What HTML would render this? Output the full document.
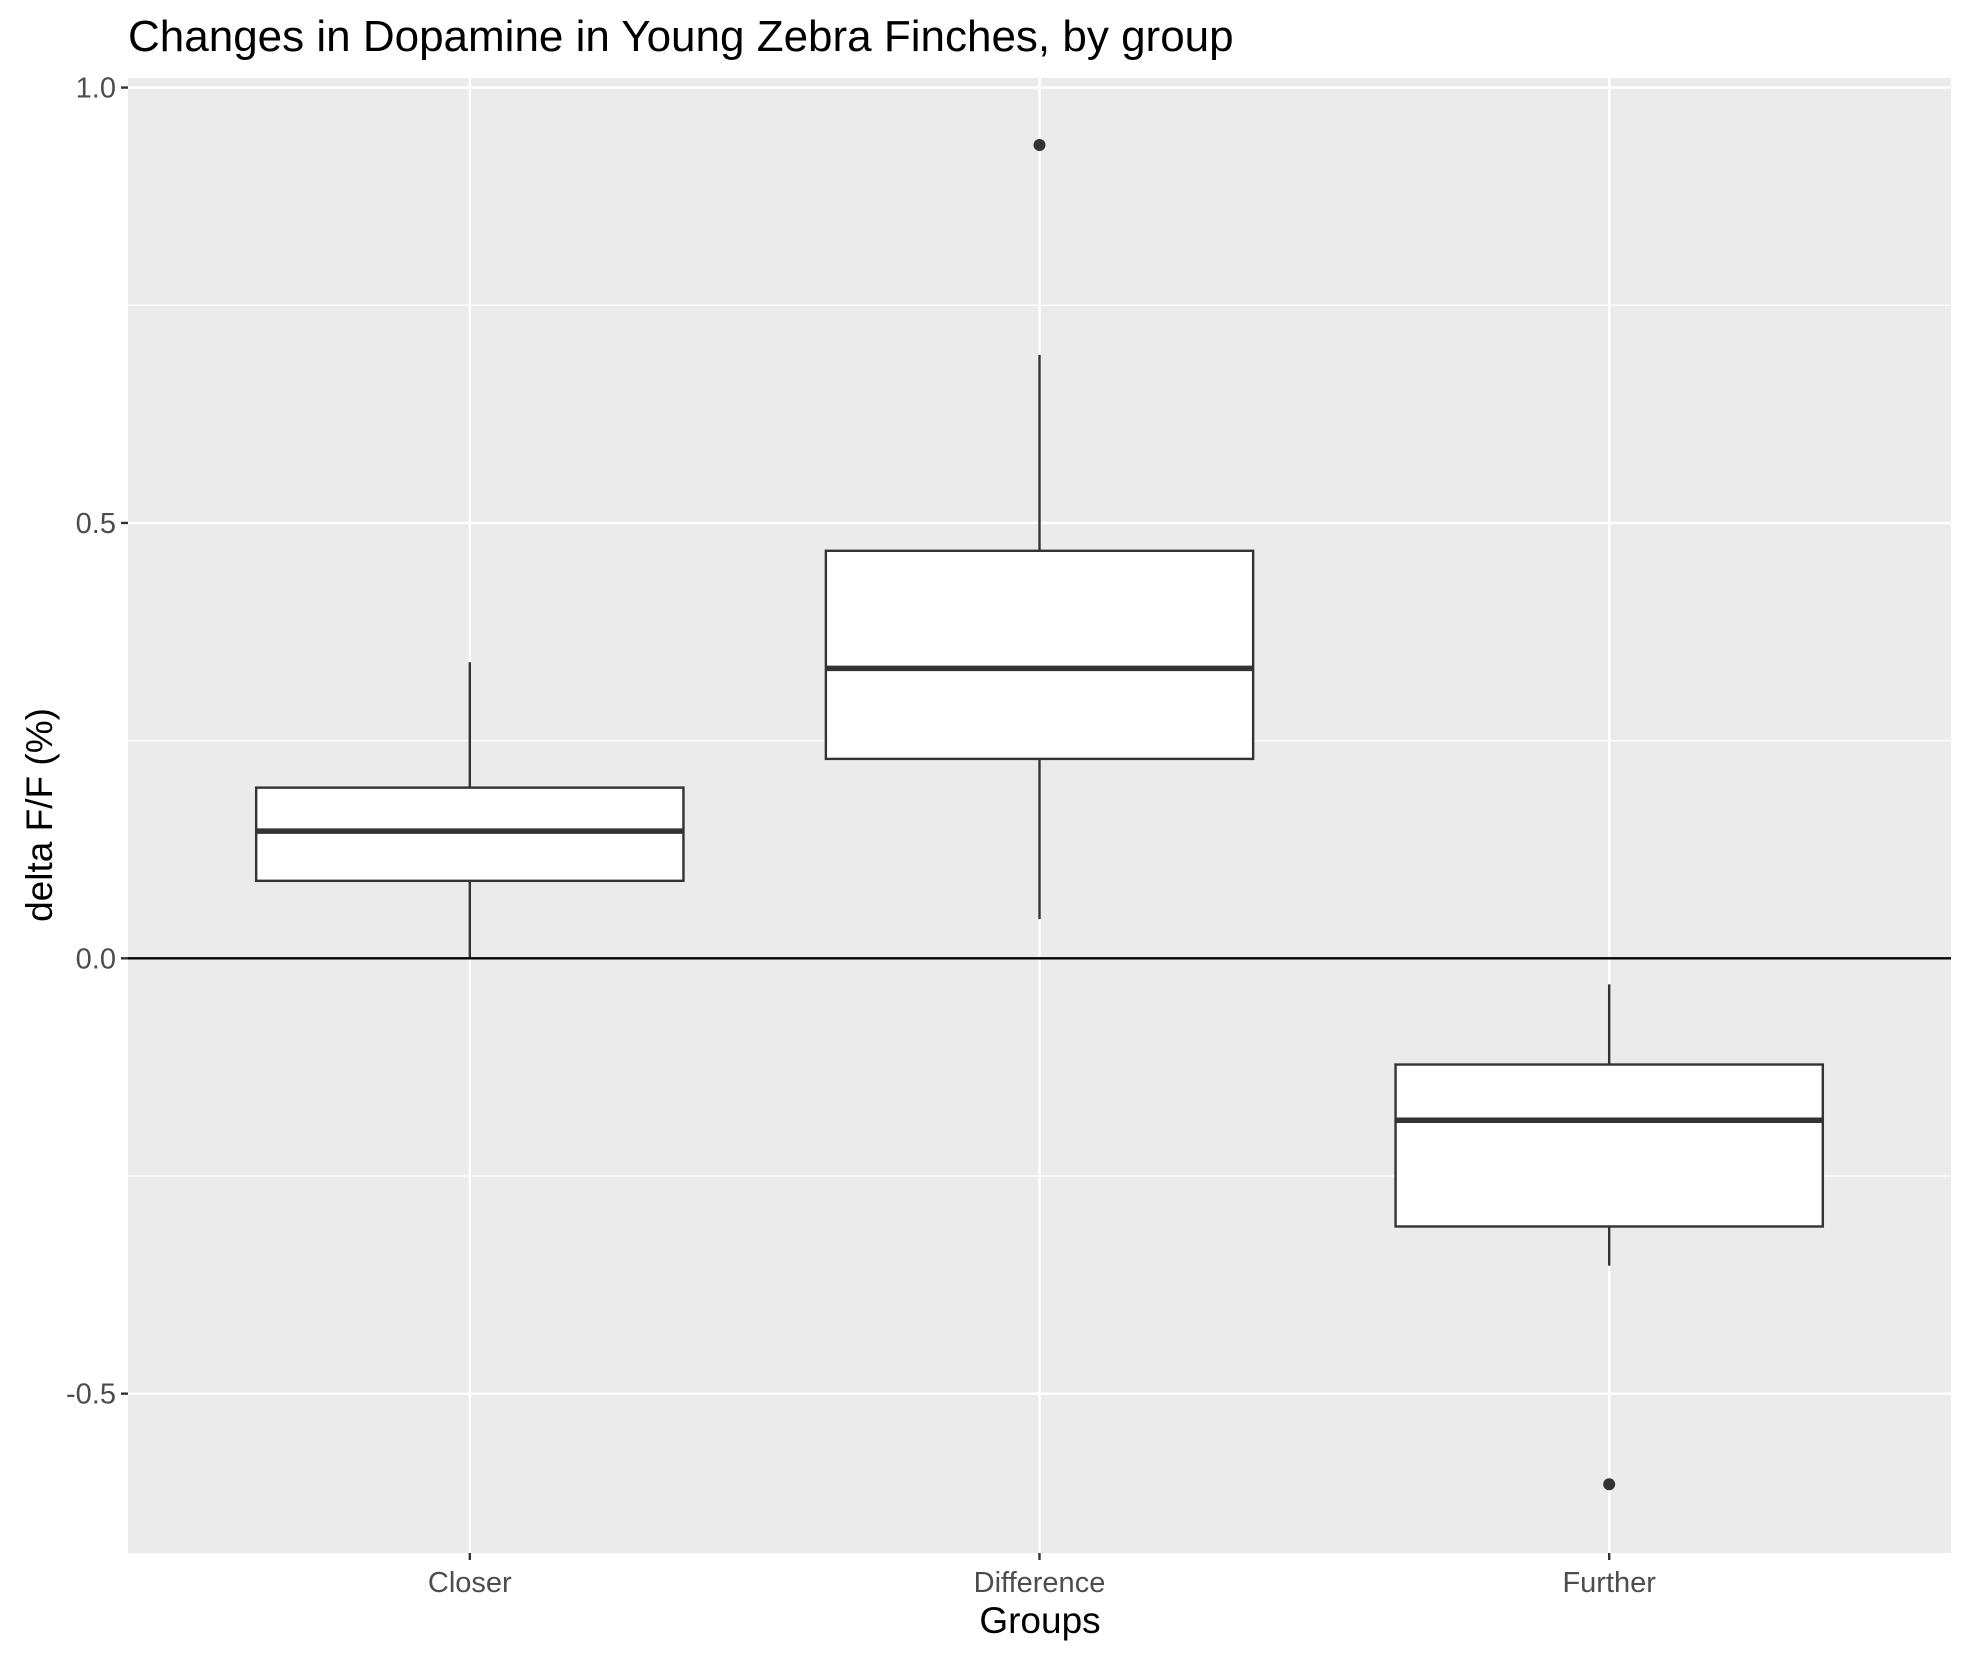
<!DOCTYPE html>
<html><head><meta charset="utf-8"><style>
html,body{margin:0;padding:0;background:#fff;}
svg{display:block;font-family:"Liberation Sans",Arial,sans-serif;}
</style></head><body>
<svg id="chart" width="1970" height="1660" viewBox="0 0 1970 1660" xmlns="http://www.w3.org/2000/svg">
<text x="128" y="51" font-size="44" fill="#000">Changes in Dopamine in Young Zebra Finches, by group</text>
<rect x="128" y="78" width="1823" height="1475" fill="#ebebeb"/>
<g id="grid"></g>
<g id="marks"></g>
<g id="axes"></g>
<text x="1040" y="1633" font-size="37" text-anchor="middle" fill="#000">Groups</text>
<text transform="translate(52,815) rotate(-90)" font-size="37" text-anchor="middle" fill="#000">delta F/F (%)</text>
</svg>
<script>
const categories = ["Closer","Difference","Further"];
const lowerWhisker = [0.0, 0.045, -0.353];
const q1 = [0.089, 0.229, -0.308];
const median = [0.146, 0.333, -0.186];
const q3 = [0.196, 0.468, -0.122];
const upperWhisker = [0.340, 0.693, -0.030];
const outlierGroup = [1, 2];
const outlierValue = [0.934, -0.604];
const yTicks = [-0.5, 0.0, 0.5, 1.0];
const yTickLabels = ["-0.5","0.0","0.5","1.0"];
const yMinor = [-0.25, 0.25, 0.75];

const L=128,R=1951,T=78,B=1553;
const yMin=-0.683,yMax=1.011;
const y=v=>B-(v-yMin)/(yMax-yMin)*(B-T);
const step=(R-L)/3.2;
const x=i=>L+(0.6+i)*step;
const bw=0.75*step;
const NS="http://www.w3.org/2000/svg";
function mk(parent,tag,attrs){const e=document.createElementNS(NS,tag);for(const k in attrs)e.setAttribute(k,attrs[k]);document.getElementById(parent).appendChild(e);return e;}

yMinor.forEach(v=>{const e=mk('grid','line',{x1:L,x2:R,y1:y(v),y2:y(v),stroke:'#fff','stroke-width':1.2});

});
yTicks.forEach((v,i)=>{const e=mk('grid','line',{x1:L,x2:R,y1:y(v),y2:y(v),stroke:'#fff','stroke-width':2.4});


const t=mk('axes','line',{x1:L-7,x2:L,y1:y(v),y2:y(v),stroke:'#333','stroke-width':2.4});


const l=mk('axes','text',{x:L-12,y:y(v)+10,'font-size':29,'text-anchor':'end',fill:'#4d4d4d'});l.textContent=yTickLabels[i];

});
categories.forEach((c,i)=>{const e=mk('grid','line',{x1:x(i),x2:x(i),y1:T,y2:B,stroke:'#fff','stroke-width':2.4});


const t=mk('axes','line',{x1:x(i),x2:x(i),y1:B,y2:B+7,stroke:'#333','stroke-width':2.4});


const l=mk('axes','text',{x:x(i),y:1592,'font-size':29,'text-anchor':'middle',fill:'#4d4d4d'});l.textContent=c;

});
categories.forEach((c,i)=>{
const w1=mk('marks','line',{x1:x(i),x2:x(i),y1:y(upperWhisker[i]),y2:y(q3[i]),stroke:'#333','stroke-width':2.4});


const w2=mk('marks','line',{x1:x(i),x2:x(i),y1:y(q1[i]),y2:y(lowerWhisker[i]),stroke:'#333','stroke-width':2.4});


const b=mk('marks','rect',{x:x(i)-bw/2,y:y(q3[i]),width:bw,height:y(q1[i])-y(q3[i]),fill:'#fff',stroke:'#333','stroke-width':2.4});


const m=mk('marks','line',{x1:x(i)-bw/2,x2:x(i)+bw/2,y1:y(median[i]),y2:y(median[i]),stroke:'#333','stroke-width':5.5});

});
outlierGroup.forEach((g,i)=>{const p=mk('marks','circle',{cx:x(g),cy:y(outlierValue[i]),r:6,fill:'#333'});

});
const z=mk('marks','line',{x1:L,x2:R,y1:y(0),y2:y(0),stroke:'#000','stroke-width':2.4});


</script>
</body></html>
